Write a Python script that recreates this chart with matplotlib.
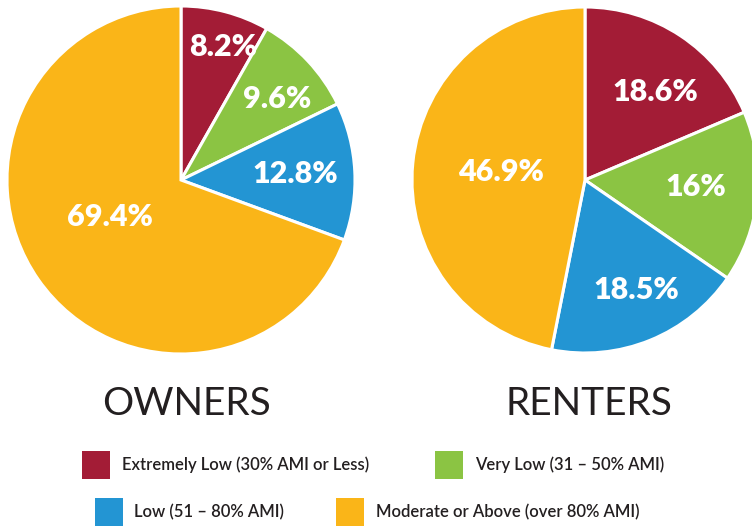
import numpy as np
import matplotlib.pyplot as plt
from matplotlib.patches import Rectangle

categories = ["Extremely Low (30% AMI or Less)", "Very Low (31 \u2013 50% AMI)",
              "Low (51 \u2013 80% AMI)", "Moderate or Above (over 80% AMI)"]
owners = [8.2, 9.6, 12.8, 69.4]
renters = [18.6, 16, 18.5, 46.9]
owner_labels = ["8.2%", "9.6%", "12.8%", "69.4%"]
renter_labels = ["18.6%", "16%", "18.5%", "46.9%"]

colors = ["#A31C36", "#8BC443", "#2395D3", "#FAB518"]
dark = "#231F20"
W, H = 752, 527

fig = plt.figure(figsize=(W / 100, H / 100), dpi=100)
fig.patch.set_facecolor("white")


def pie_axes(cx, cy, r):
    ax = fig.add_axes([(cx - r) / W, (H - cy - r) / H, 2 * r / W, 2 * r / H])
    return ax


def draw_pie(ax, values, labels, dists, offsets):
    wedges, _ = ax.pie(values, colors=colors, startangle=90, counterclock=False,
                       radius=1, wedgeprops=dict(edgecolor="white", linewidth=2.2))
    ax.set_xlim(-1.0, 1.0)
    ax.set_ylim(-1.0, 1.0)
    ax.set_aspect("equal")
    ax.axis("off")
    for w, lab, d, off in zip(wedges, labels, dists, offsets):
        mid = np.deg2rad((w.theta1 + w.theta2) / 2 + off)
        ax.text(d * np.cos(mid), d * np.sin(mid), lab, ha="center", va="center",
                color="white", fontsize=22, fontweight="heavy", family="Lato")


ax1 = pie_axes(181, 180, 174)
draw_pie(ax1, owners, owner_labels, [0.80, 0.72, 0.66, 0.46], [-3, -3, 0, -7])

ax2 = pie_axes(585, 180, 173)
draw_pie(ax2, renters, renter_labels, [0.65, 0.64, 0.70, 0.49], [-5, 2, 3, 0])

fig.text(187 / W, 1 - 404 / H, "OWNERS", ha="center", va="center",
         fontsize=28, color=dark, family="Lato")
fig.text(589 / W, 1 - 404 / H, "RENTERS", ha="center", va="center",
         fontsize=28, color=dark, family="Lato")

# legend: square left edge, text left edge, row center (pixels)
legend_pos = [(82, 122, 465), (435, 475, 465), (95, 134, 512), (336, 376, 512)]
for (sx, tx, y), c, lab in zip(legend_pos, colors, categories):
    fig.patches.append(Rectangle((sx / W, 1 - (y + 14) / H), 28 / W, 28 / H,
                                 transform=fig.transFigure, facecolor=c,
                                 edgecolor="none"))
    fig.text(tx / W, 1 - y / H, lab, ha="left", va="center", fontsize=12,
             color=dark, family="Lato", fontweight="semibold")

fig.savefig("out.png", dpi=100)
